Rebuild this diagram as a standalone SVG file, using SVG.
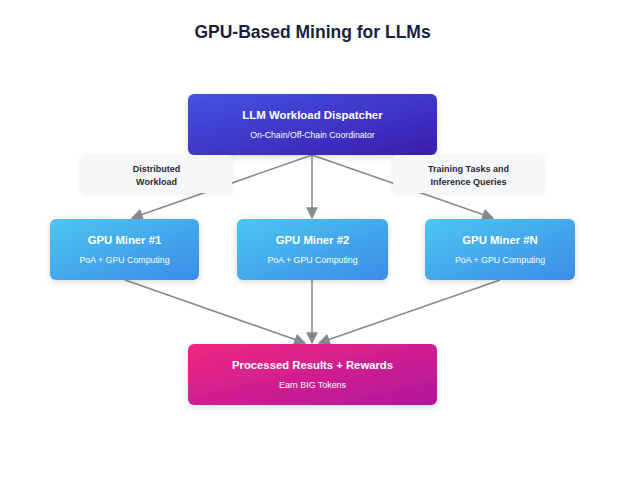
<svg xmlns="http://www.w3.org/2000/svg" width="625" height="500" viewBox="0 0 625 500">
<style>
.title{font-family:"Liberation Sans",Arial,sans-serif;font-weight:bold;font-size:17.5px;fill:#1c1f3a;text-anchor:middle}
.h{font-family:"Liberation Sans",Arial,sans-serif;font-weight:bold;fill:#fff;text-anchor:middle}
.s{font-family:"Liberation Sans",Arial,sans-serif;fill:#fff;text-anchor:middle}
.lbl{font-family:"Liberation Sans",Arial,sans-serif;font-weight:bold;font-size:9px;fill:#2a2a35;text-anchor:middle}
.edge{stroke:#858a90;stroke-width:1.5;fill:none;marker-end:url(#arr)}
</style>
<defs>
<linearGradient id="gDisp" x1="0" y1="0" x2="1" y2="1"><stop offset="0" stop-color="#4452e3"/><stop offset="1" stop-color="#3a1cae"/></linearGradient>
<linearGradient id="gMiner" x1="0" y1="0" x2="1" y2="1"><stop offset="0" stop-color="#4cc6f1"/><stop offset="1" stop-color="#3c8ce8"/></linearGradient>
<linearGradient id="gRes" x1="0" y1="0" x2="1" y2="1"><stop offset="0" stop-color="#f1277f"/><stop offset="1" stop-color="#b0169f"/></linearGradient>
<filter id="sh" x="-20%" y="-30%" width="140%" height="160%"><feDropShadow dx="0" dy="2" stdDeviation="3" flood-color="#000" flood-opacity="0.15"/></filter>
<filter id="sh2" x="-20%" y="-30%" width="140%" height="160%"><feDropShadow dx="0" dy="1" stdDeviation="2" flood-color="#000" flood-opacity="0.08"/></filter>
<marker id="arr" viewBox="0 0 10 10" refX="9" refY="5" markerWidth="12" markerHeight="12" markerUnits="userSpaceOnUse" orient="auto"><path d="M0,0 L10,5 L0,10 z" fill="#858a90"/></marker>
</defs>
<rect width="625" height="500" fill="#fff"/>
<text class="title" x="312.5" y="38">GPU-Based Mining for LLMs</text>
<g id="connectors">
<line class="edge" x1="312" y1="155" x2="132" y2="218"/>
<line class="edge" x1="312" y1="155" x2="312" y2="218"/>
<line class="edge" x1="312" y1="155" x2="493" y2="218"/>
<line class="edge" x1="125" y1="280" x2="305" y2="343"/>
<line class="edge" x1="312" y1="280" x2="312" y2="343"/>
<line class="edge" x1="500" y1="280" x2="319" y2="343"/>
</g>
<g id="dispatcher">
<rect x="188" y="94" width="249" height="61" rx="6" fill="url(#gDisp)" filter="url(#sh)"/>
<text class="h" x="312.5" y="119" font-size="11.4">LLM Workload Dispatcher</text>
<text class="s" x="312.5" y="137.5" font-size="8.7">On-Chain/Off-Chain Coordinator</text>
</g>
<g id="label-distributed">
<rect x="81" y="155" width="151" height="38" rx="4" fill="#f6f7f9" filter="url(#sh2)"/>
<text class="lbl" x="156.5" y="172">Distributed</text>
<text class="lbl" x="156.5" y="185">Workload</text>
</g>
<g id="label-training">
<rect x="393" y="155" width="151" height="38" rx="4" fill="#f6f7f9" filter="url(#sh2)"/>
<text class="lbl" x="468.5" y="172">Training Tasks and</text>
<text class="lbl" x="468.5" y="185">Inference Queries</text>
</g>
<g id="miner1">
<rect x="50" y="219" width="149" height="61" rx="6" fill="url(#gMiner)" filter="url(#sh)"/>
<text class="h" x="124.5" y="244" font-size="11.3">GPU Miner #1</text>
<text class="s" x="124.5" y="262.5" font-size="8.8">PoA + GPU Computing</text>
</g>
<g id="miner2">
<rect x="237" y="219" width="151" height="61" rx="6" fill="url(#gMiner)" filter="url(#sh)"/>
<text class="h" x="312.5" y="244" font-size="11.3">GPU Miner #2</text>
<text class="s" x="312.5" y="262.5" font-size="8.8">PoA + GPU Computing</text>
</g>
<g id="minerN">
<rect x="425" y="219" width="150" height="61" rx="6" fill="url(#gMiner)" filter="url(#sh)"/>
<text class="h" x="500" y="244" font-size="11.3">GPU Miner #N</text>
<text class="s" x="500" y="262.5" font-size="8.8">PoA + GPU Computing</text>
</g>
<g id="results">
<rect x="188" y="344" width="249" height="61" rx="6" fill="url(#gRes)" filter="url(#sh)"/>
<text class="h" x="312.5" y="369" font-size="11.3">Processed Results + Rewards</text>
<text class="s" x="312.5" y="387.5" font-size="8.9">Earn BIG Tokens</text>
</g>
</svg>
